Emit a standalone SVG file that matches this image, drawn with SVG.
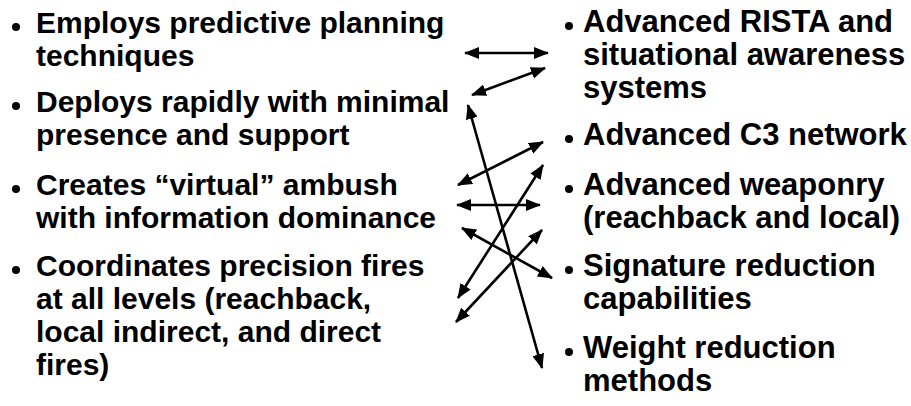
<svg xmlns="http://www.w3.org/2000/svg" width="911" height="406" viewBox="0 0 911 406">
<style>
text{font-family:"Liberation Sans",Arial,sans-serif;font-weight:bold;font-size:30px;fill:#000}
.r text{font-size:31px}
.c{stroke:#000;stroke-width:2.6;fill:none;marker-start:url(#ah);marker-end:url(#ah)}
.b{fill:#000}
</style>
<defs>
<marker id="ah" viewBox="0 0 15 12" markerUnits="userSpaceOnUse" markerWidth="15" markerHeight="12" refX="14" refY="6" orient="auto-start-reverse">
<path d="M0,0 L15,6 L0,12 z" fill="#000"/>
</marker>
</defs>
<rect width="911" height="406" fill="#fff"/>
<g id="left1"><circle class="b" cx="16" cy="27" r="4"/><text x="36" y="33">Employs predictive planning</text><text x="36" y="66">techniques</text></g>
<g id="left2"><circle class="b" cx="16" cy="106" r="4"/><text x="36" y="112">Deploys rapidly with minimal</text><text x="36" y="145">presence and support</text></g>
<g id="left3"><circle class="b" cx="16" cy="189" r="4"/><text x="36" y="195">Creates “virtual” ambush</text><text x="36" y="228">with information dominance</text></g>
<g id="left4"><circle class="b" cx="16" cy="270" r="4"/><text x="36" y="276">Coordinates precision fires</text><text x="36" y="309">at all levels (reachback,</text><text x="36" y="342">local indirect, and direct</text><text x="36" y="375">fires)</text></g>
<g class="r">
<g id="right1"><circle class="b" cx="569" cy="26" r="4"/><text x="583" y="32">Advanced RISTA and</text><text x="583" y="65">situational awareness</text><text x="583" y="98">systems</text></g>
<g id="right2"><circle class="b" cx="569" cy="139" r="4"/><text x="583" y="145">Advanced C3 network</text></g>
<g id="right3"><circle class="b" cx="569" cy="189" r="4"/><text x="583" y="195">Advanced weaponry</text><text x="583" y="228">(reachback and local)</text></g>
<g id="right4"><circle class="b" cx="569" cy="270" r="4"/><text x="583" y="276">Signature reduction</text><text x="583" y="309">capabilities</text></g>
<g id="right5"><circle class="b" cx="569" cy="352" r="4"/><text x="583" y="358">Weight reduction</text><text x="583" y="391">methods</text></g>
</g>
<g id="connectors">
<line class="c" x1="465" y1="53" x2="548" y2="53"/>
<line class="c" x1="472" y1="95" x2="545" y2="68"/>
<line class="c" x1="468" y1="105" x2="542" y2="368"/>
<line class="c" x1="458" y1="185" x2="543" y2="142"/>
<line class="c" x1="457" y1="205" x2="540" y2="205"/>
<line class="c" x1="458" y1="298" x2="543" y2="165"/>
<line class="c" x1="462" y1="228" x2="552" y2="278"/>
<line class="c" x1="542" y1="230" x2="456" y2="322"/>
</g>
</svg>
